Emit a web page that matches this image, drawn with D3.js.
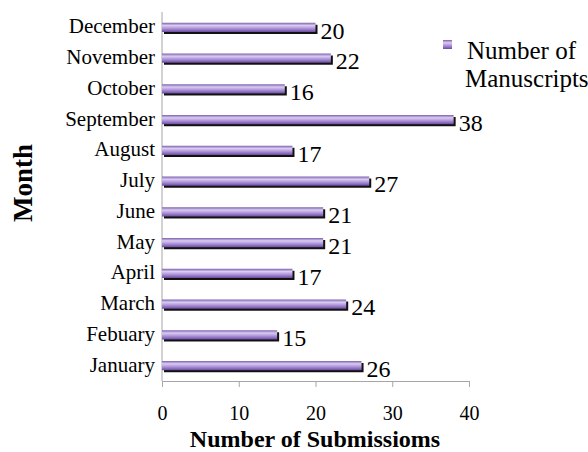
<!DOCTYPE html>
<html>
<head>
<meta charset="utf-8">
<script src="https://cdn.jsdelivr.net/npm/d3@7"></script>
<style>
  body { margin: 0; background: #fff; }
</style>
</head>
<body>
<div id="graphic"></div>
<script>
const months = ["January", "Febuary", "March", "April", "May", "June", "July",
  "August", "September", "October", "November", "December"];
const manuscripts = [26, 15, 24, 17, 21, 21, 27, 17, 38, 16, 22, 20];
const xTicks = [0, 10, 20, 30, 40];

const serif = '"Liberation Serif", "Times New Roman", Times, serif';
const width = 588, height = 452;
const margin = { top: 12, right: 119, bottom: 71, left: 162 };
const chartWidth = width - margin.left - margin.right;
const chartHeight = height - margin.top - margin.bottom;

const svg = d3.select('#graphic').append('svg')
  .attr('width', width).attr('height', height);

// gradient for the bar face
const grad = svg.append('defs').append('linearGradient')
  .attr('id', 'barGrad').attr('x1', 0).attr('x2', 0).attr('y1', 0).attr('y2', 1);
grad.append('stop').attr('offset', '0%').attr('stop-color', '#7d5fb0');
grad.append('stop').attr('offset', '30%').attr('stop-color', '#d9cdf0');
grad.append('stop').attr('offset', '65%').attr('stop-color', '#a98cd8');
grad.append('stop').attr('offset', '100%').attr('stop-color', '#6b4c9e');

const g = svg.append('g').attr('transform', `translate(${margin.left},${margin.top})`);

const x = d3.scaleLinear().domain([0, 40]).range([0, chartWidth]);
const y = d3.scaleBand().domain(months.slice().reverse()).range([0, chartHeight]).paddingInner(0.7).paddingOuter(0.35);

// y axis line + labels
g.append('line').attr('x1', 0).attr('x2', 0).attr('y1', 0).attr('y2', chartHeight)
  .attr('stroke', '#a6a6a6').attr('stroke-width', 1);

g.selectAll('.cat').data(months).join('text')
  .attr('class', 'cat')
  .attr('x', -7)
  .attr('y', d => y(d) + y.bandwidth() / 2)
  .attr('dy', '0.28em')
  .attr('text-anchor', 'end')
  .style('font-family', serif)
  .style('font-size', '21px')
  .text(d => d);

// x axis
const xAxis = d3.axisBottom(x).tickValues(xTicks).tickSize(6).tickPadding(19);
const ax = g.append('g').attr('transform', `translate(0,${chartHeight})`).call(xAxis);
ax.select('.domain').attr('stroke', '#a6a6a6');
ax.selectAll('.tick line').attr('stroke', '#a6a6a6');
ax.selectAll('.tick text').style('font-family', serif).style('font-size', '20px').attr('fill', '#000');

// bars: shadow then face
const data = months.map((m, i) => ({ month: m, value: manuscripts[i] }));
g.selectAll('.shadow').data(data).join('rect')
  .attr('class', 'shadow')
  .attr('x', x(0) + 2)
  .attr('y', d => y(d.month) + 2)
  .attr('width', d => x(d.value) - x(0))
  .attr('height', y.bandwidth())
  .attr('fill', '#111');
g.selectAll('.bar').data(data).join('rect')
  .attr('class', 'bar')
  .attr('x', x(0))
  .attr('y', d => y(d.month))
  .attr('width', d => x(d.value) - x(0))
  .attr('height', y.bandwidth())
  .attr('fill', 'url(#barGrad)');

// value labels
g.selectAll('.val').data(data).join('text')
  .attr('class', 'val')
  .attr('x', d => x(d.value) + 5)
  .attr('y', d => y(d.month) + y.bandwidth() / 2 + 3)
  .attr('dy', '0.34em')
  .style('font-family', serif)
  .style('font-size', '24px')
  .text(d => d.value);

// axis titles
svg.append('text')
  .attr('x', 315).attr('y', 447)
  .attr('text-anchor', 'middle')
  .style('font-family', serif)
  .style('font-size', '24px').style('font-weight', 'bold')
  .text('Number of Submissioms');

svg.append('text')
  .attr('transform', `translate(32,183) rotate(-90)`)
  .attr('text-anchor', 'middle')
  .style('font-family', serif)
  .style('font-size', '27px').style('font-weight', 'bold')
  .text('Month');

// legend
const lg = svg.append('g').attr('transform', 'translate(443,40)');
lg.append('rect').attr('width', 9).attr('height', 9).attr('fill', 'url(#barGrad)');
lg.append('text').attr('x', 24).attr('y', 19).style('font-family', serif).style('font-size', '25px').text('Number of');
lg.append('text').attr('x', 22).attr('y', 47).style('font-family', serif).style('font-size', '25px').text('Manuscripts');
</script>
</body>
</html>
